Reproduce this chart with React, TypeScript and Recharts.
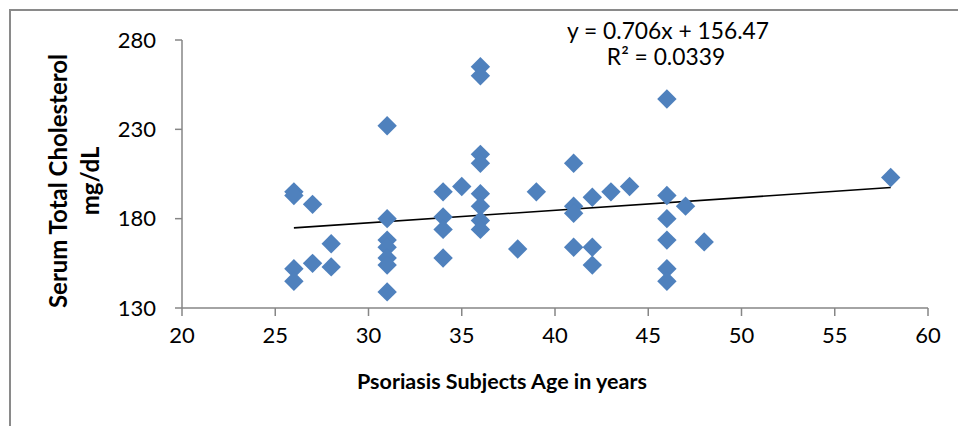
import React from "react";
import { ScatterChart, Scatter, XAxis, YAxis, ReferenceLine } from "recharts";

const ages = [26, 26, 26, 26, 27, 27, 28, 28, 31, 31, 31, 31, 31, 31, 31, 34, 34, 34, 34, 35, 36, 36, 36, 36, 36, 36, 36, 36, 38, 39, 41, 41, 41, 41, 42, 42, 42, 43, 44, 46, 46, 46, 46, 46, 46, 47, 48, 58];
const cholesterol = [195, 193, 152, 145, 188, 155, 166, 153, 232, 180, 168, 164, 158, 154, 139, 195, 181, 174, 158, 198, 265, 260, 216, 211, 194, 187, 179, 174, 163, 195, 211, 187, 183, 164, 192, 164, 154, 195, 198, 247, 193, 180, 168, 152, 145, 187, 167, 203];
const xTicks = [20, 25, 30, 35, 40, 45, 50, 55, 60];
const yTicks = [130, 180, 230, 280];
const slope = 0.706;
const intercept = 156.47;
const equationText = "y = 0.706x + 156.47";
const r2Text = "R² = 0.0339";

const points = ages.map((a, i) => ({ x: a, y: cholesterol[i] }));
const xMin = Math.min(...ages);
const xMax = Math.max(...ages);
const trend = [
  { x: xMin, y: slope * xMin + intercept },
  { x: xMax, y: slope * xMax + intercept },
];

const FONT = "Lato, 'Open Sans', sans-serif";
const AXIS = "#868686";
const BLUE = "#4F81BD";

const Diamond = (props: any) => {
  const { cx, cy } = props;
  if (cx == null || cy == null) return null;
  const r = 9.7;
  return (
    <polygon
      points={`${cx},${cy - r} ${cx + r},${cy} ${cx},${cy + r} ${cx - r},${cy}`}
      fill={BLUE}
    />
  );
};

export default function App() {
  return (
    <div style={{ position: "absolute", left: 0, top: 0, width: 958, height: 426, background: "#fff", overflow: "hidden" }}>
      <div style={{ position: "absolute", left: 9, top: 9, width: 949, height: 2, background: "#8a8a8a" }} />
      <div style={{ position: "absolute", left: 9, top: 9, width: 2, height: 417, background: "#8a8a8a" }} />
      <div style={{ position: "absolute", left: 0, top: 0 }}>
        <ScatterChart
          width={958}
          height={426}
          margin={{ top: 40, right: 30, bottom: 0, left: 0 }}
          style={{ fontFamily: FONT }}
        >
          <XAxis
            type="number"
            dataKey="x"
            domain={[20, 60]}
            ticks={xTicks}
            interval={0}
            axisLine={{ stroke: AXIS, strokeWidth: 1.5 }}
            tickLine={{ stroke: AXIS, strokeWidth: 1.5 }}
            tickSize={8}
            tickMargin={11}
            tick={{ fill: "#000", fontSize: 22, fontFamily: FONT }}
            height={118}
          />
          <YAxis
            type="number"
            dataKey="y"
            domain={[130, 280]}
            ticks={yTicks}
            interval={0}
            axisLine={{ stroke: AXIS, strokeWidth: 1.5 }}
            tickLine={{ stroke: AXIS, strokeWidth: 1.5 }}
            tickSize={7}
            tickMargin={19}
            tick={{ fill: "#000", fontSize: 22, fontFamily: FONT }}
            width={182}
          />
          <ReferenceLine
            segment={trend}
            stroke="#000"
            strokeWidth={1.6}
            ifOverflow="visible"
          />
          <Scatter data={points} shape={Diamond} isAnimationActive={false} />
        </ScatterChart>
      </div>
      <svg width={958} height={426} style={{ position: "absolute", left: 0, top: 0, pointerEvents: "none" }}>
        <text x={668} y={39} textAnchor="middle" fontFamily={FONT} fontSize={22.8} fill="#000">{equationText}</text>
        <text x={666} y={65} textAnchor="middle" fontFamily={FONT} fontSize={22.8} fill="#000">{r2Text}</text>
        <text x={502} y={389} textAnchor="middle" fontFamily={FONT} fontWeight="bold" fontSize={21.5} fill="#000">Psoriasis Subjects Age in years</text>
        <text transform="translate(67,181) rotate(-90)" textAnchor="middle" fontFamily={FONT} fontWeight="bold" fontSize={24} fill="#000">Serum Total Cholesterol</text>
        <text transform="translate(99,181) rotate(-90)" textAnchor="middle" fontFamily={FONT} fontWeight="bold" fontSize={24} fill="#000">mg/dL</text>
      </svg>
    </div>
  );
}
